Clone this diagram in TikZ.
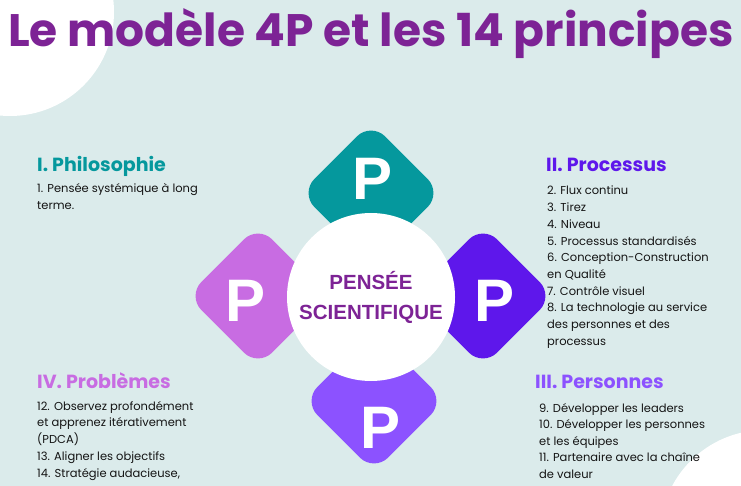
\documentclass[tikz,border=0pt]{standalone}
\usepackage{fontspec}
\setmainfont{Poppins}
\newfontfamily\arialf{Liberation Sans}
\definecolor{bg}{HTML}{DBEBEB}
\definecolor{titlec}{HTML}{7D2395}
\definecolor{tealc}{HTML}{05989D}
\definecolor{pinkc}{HTML}{C86CE2}
\definecolor{violetc}{HTML}{5E17EB}
\definecolor{lavc}{HTML}{8C52FF}
\definecolor{txt}{HTML}{141414}
\begin{document}
\begin{tikzpicture}[x=1pt,y=-1pt,
  diam/.style={shape=rectangle, rotate=45, minimum size=100pt, rounded corners=20pt, inner sep=0pt},
  bigp/.style={anchor=base, inner sep=0pt, text=white, font=\arialf\bfseries\fontsize{60}{60}\selectfont},
  head/.style={anchor=base west, inner sep=0pt, font=\bfseries\fontsize{19}{19}\selectfont},
  item/.style={anchor=base west, inner sep=0pt, text=txt, font=\fontsize{11.5}{11.5}\selectfont}]
\fill[bg] (0,0) rectangle (741,486);
\useasboundingbox (0,0) rectangle (741,486);
\fill[white] (10,12) circle[radius=104];
\fill[white] (765,535) circle[radius=105];
\node[anchor=base west, inner sep=0pt, text=titlec, font=\bfseries\fontsize{45.5}{45.5}\selectfont] (title) at (8,47) {Le modèle 4P et les 14 principes};
% diamonds
\node[diam, fill=tealc] (dt) at (371,193) {};
\node[diam, fill=pinkc] (dl) at (258,296) {};
\node[diam, fill=violetc] (dr) at (483,296) {};
\node[diam, fill=lavc] (db) at (374,401) {};
\node[circle, fill=white, minimum size=168pt, inner sep=0pt] (c) at (371,297) {};
\node[anchor=base, inner sep=0pt, text=titlec, font=\arialf\bfseries\fontsize{20.5}{20.5}\selectfont] (c1) at (371,289) {PENSÉE};
\node[anchor=base, inner sep=0pt, text=titlec, font=\arialf\bfseries\fontsize{20.5}{20.5}\selectfont] (c2) at (371,319) {SCIENTIFIQUE};
\node[bigp] (pt) at (373,200) {P};
\node[bigp] (pl) at (246,321) {P};
\node[bigp] (pr) at (495,321) {P};
\node[bigp] (pb) at (381,448) {P};
% headings
\node[head, text=tealc] (h1) at (37,172) {I. Philosophie};
\node[head, text=violetc] (h2) at (546,172) {II. Processus};
\node[head, text=lavc] (h3) at (535,388) {III. Personnes};
\node[head, text=pinkc] (h4) at (37,388) {IV. Problèmes};
% items
\foreach \t [count=\i] in {{1. Pensée systémique à long},{terme.}}
  \node[item] (a\i) at (37,193+16.8*\i-16.8) {\t};
\foreach \t [count=\i] in {{2. Flux continu},{3. Tirez},{4. Niveau},{5. Processus standardisés},{6. Conception-Construction},{en Qualité},{7. Contrôle visuel},{8. La technologie au service},{des personnes et des},{processus}}
  \node[item] (b\i) at (547,195+16.67*\i-16.67) {\t};
\foreach \t [count=\i] in {{9. Développer les leaders},{10. Développer les personnes},{et les équipes},{11. Partenaire avec la chaîne},{de valeur}}
  \node[item] (d\i) at (539,412+16.5*\i-16.5) {\t};
\foreach \t [count=\i] in {{12. Observez profondément},{et apprenez itérativement},{(PDCA)},{13. Aligner les objectifs},{14. Stratégie audacieuse,}}
  \node[item] (e\i) at (37,410+16.75*\i-16.75) {\t};
\end{tikzpicture}
\end{document}
